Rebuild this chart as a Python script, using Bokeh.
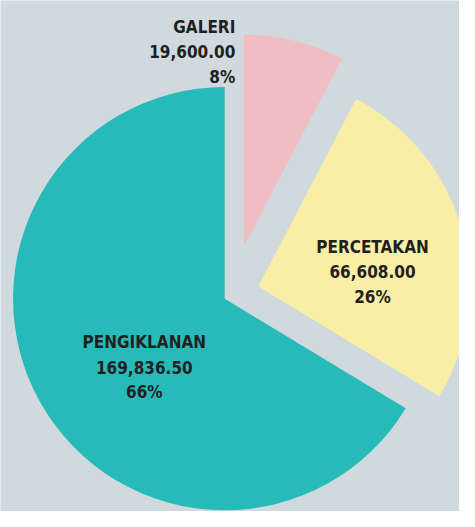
import math
from bokeh.plotting import figure
from bokeh.models import Range1d
from bokeh.core.properties import value
from bokeh.embed import file_html
from bokeh.resources import INLINE

# ---- data ----
categories = ["GALERI", "PERCETAKAN", "PENGIKLANAN"]
amounts = [19600.00, 66608.00, 169836.50]

# ---- styles / layout ----
colors = ["#f0bdc2", "#f8eea6", "#26bab8"]
bg = "#cfd9de"
text_color = "#231f20"
W_PIX, H_PIX = 475, 527           # reference coordinate space
center = (232.0, 527 - 307.5)
radius = 219.0
explode = [(20.0, 54.0), (34.7, 12.5), (0.0, 0.0)]   # per-slice shift (data units)
# label anchor: (x, first-line baseline y in pixels-from-top, align)
label_layout = [(243.0, 27.3, "right"), (385.0, 254.0, "center"), (148.8, 352.3, "center")]
line_gap = 25.7

total = sum(amounts)
p = figure(width=459, height=511, output_backend="svg", toolbar_location=None,
           x_range=Range1d(0, W_PIX), y_range=Range1d(0, H_PIX), min_border=0)
p.axis.visible = False
p.grid.visible = False
p.outline_line_color = None
p.background_fill_color = bg
p.border_fill_color = bg

# slices go clockwise from 12 o'clock
end = math.pi / 2
for i, (cat, amt) in enumerate(zip(categories, amounts)):
    sweep = 2 * math.pi * amt / total
    start = end - sweep
    cx = center[0] + explode[i][0]
    cy = center[1] + explode[i][1]
    p.wedge(x=[cx], y=[cy], radius=radius, start_angle=start, end_angle=end,
            direction="anticlock", fill_color=colors[i], line_color=None)
    end = start

for i, (cat, amt) in enumerate(zip(categories, amounts)):
    lx, ly, align = label_layout[i]
    lines = [cat, f"{amt:,.2f}", f"{round(100 * amt / total)}%"]
    for j, t in enumerate(lines):
        p.text(x=[lx], y=[H_PIX - (ly + j * line_gap)], text=[t],
               text_font=value("DejaVu Sans Condensed"), text_font_style="bold",
               text_font_size="17px", text_color=text_color,
               text_align=align, text_baseline="alphabetic")

open("out.html", "w").write(file_html(p, INLINE))
